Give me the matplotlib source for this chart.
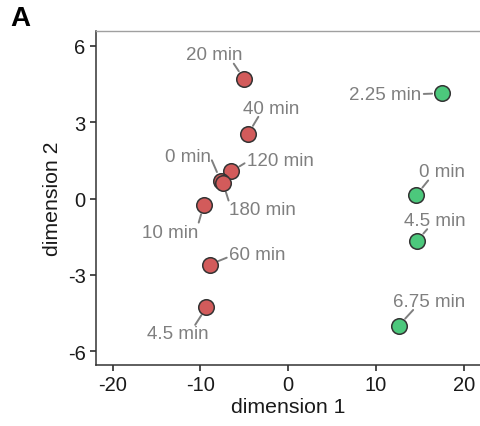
import matplotlib
matplotlib.use("Agg")
import matplotlib.pyplot as plt

plt.rcParams['font.family'] = ['Liberation Sans', 'DejaVu Sans']
plt.rcParams['axes.unicode_minus'] = False

# Data
red_labels = ["20 min", "40 min", "120 min", "0 min", "180 min", "10 min", "60 min", "4.5 min"]
red_x = [-5.04, -4.58, -6.47, -7.7, -7.43, -9.63, -8.95, -9.32]
red_y = [4.70, 2.54, 1.07, 0.70, 0.61, -0.26, -2.60, -4.28]

green_labels = ["2.25 min", "0 min", "4.5 min", "6.75 min"]
green_x = [17.46, 14.6, 14.68, 12.59]
green_y = [4.14, 0.14, -1.66, -5.0]

# label positions (repelled text)
red_tx = [-8.38, -1.9, -0.9, -11.45, -2.9, -13.5, -3.5, -12.6]
red_ty = [5.65, 3.56, 1.51, 1.67, -0.45, -1.32, -2.22, -5.33]
green_tx = [11.0, 17.55, 16.66, 16.0]
green_ty = [4.11, 1.05, -0.87, -4.05]

xticks = [-20, -10, 0, 10, 20]
yticks = [-6, -3, 0, 3, 6]

# segment attachment on the label box (style)
red_rel = [(0.81, 0.12), (0.29, 0.12), (0.0, 0.4), (1.0, 0.4),
           (0.0, 0.9), (1.0, 0.9), (0.0, 0.4), (0.76, 0.9)]
green_rel = [(1.0, 0.5), (0.23, 0.12), (0.41, 0.12), (0.31, 0.12)]

RED = "#D25B5B"
GREEN = "#4CC87C"
GRAY = "#7F7F7F"

fig = plt.figure(figsize=(4.81, 4.27), dpi=100)
ax = fig.add_axes([96/481, (427-366)/427, (481-96)/481, (366-32)/427])

ax.set_xlim(-21.9, 21.95)
ax.set_ylim(-6.55, 6.59)

def draw(xs, ys, txs, tys, labels, rels, color):
    for x, y, tx, ty, lab, rp in zip(xs, ys, txs, tys, labels, rels):
        ax.annotate(lab, xy=(x, y), xytext=(tx, ty), ha='center', va='center',
                    fontsize=13.5, color=GRAY,
                    arrowprops=dict(arrowstyle='-', color=GRAY, lw=1.4,
                                    patchA=None, relpos=rp,
                                    shrinkA=2, shrinkB=6.8), zorder=2)
    ax.scatter(xs, ys, s=125, c=color, edgecolors="#333333", linewidths=1.1, zorder=3)

draw(red_x, red_y, red_tx, red_ty, red_labels, red_rel, RED)
draw(green_x, green_y, green_tx, green_ty, green_labels, green_rel, GREEN)

ax.set_xticks(xticks)
ax.set_yticks(yticks)
ax.tick_params(labelsize=14.5, colors="#1a1a1a", length=4, width=1.1)
ax.set_xlabel("dimension 1", fontsize=15.3, color="#1a1a1a", labelpad=2)
ax.set_ylabel("dimension 2", fontsize=15.3, color="#1a1a1a", labelpad=4)

for s in ['top', 'right']:
    ax.spines[s].set_color("#A0A0A0")
    ax.spines[s].set_linewidth(1.0)
for s in ['left', 'bottom']:
    ax.spines[s].set_color("#333333")
    ax.spines[s].set_linewidth(1.1)

fig.text(10/481, 1 - 19/427, "A", fontsize=20, fontweight='bold', ha='left', va='center')

fig.savefig("out.png", dpi=100)
